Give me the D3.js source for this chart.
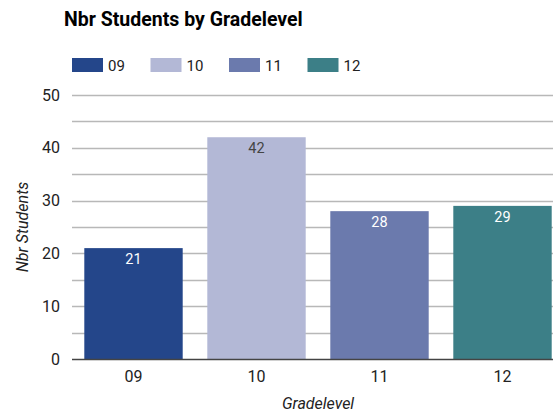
<!DOCTYPE html>
<html>
<head>
<meta charset="utf-8">
<script src="https://cdn.jsdelivr.net/npm/d3@7"></script>
<style>
  body { margin: 0; background: #fff; }
  text { font-family: Roboto, "Noto Sans", sans-serif; }
</style>
</head>
<body>
<svg id="chart"></svg>
<script>
var grades = ["09", "10", "11", "12"];
var students = [21, 42, 28, 29];
var colors = ["#24468a", "#b3b8d6", "#6b7aad", "#3c7f87"];
var labelColors = ["#ffffff", "#444444", "#ffffff", "#ffffff"];
var yTicks = [0, 10, 20, 30, 40, 50];
var gridTicks = [0, 5, 10, 15, 20, 25, 30, 35, 40, 45, 50];

var width = 553, height = 412;
var margin = {top: 95, left: 72, right: 0, bottom: 53};

var svg = d3.select("#chart")
    .attr("width", width)
    .attr("height", height);

var x = d3.scaleBand()
    .domain(grades)
    .range([margin.left, margin.left + 4 * 123])
    .paddingInner(0.2)
    .paddingOuter(0.1);

var y = d3.scaleLinear()
    .domain([0, 50])
    .range([height - margin.bottom, margin.top]);

// title
svg.append("text")
    .attr("x", 64)
    .attr("y", 26)
    .attr("font-size", 19.5)
    .attr("font-weight", "bold")
    .attr("fill", "#000")
    .text("Nbr Students by Gradelevel");

// legend
var legend = svg.selectAll(".legend")
    .data(grades)
    .enter().append("g")
    .attr("class", "legend")
    .attr("transform", function(d, i) { return `translate(${72 + i * 78.5},58)`; });

legend.append("rect")
    .attr("width", 31)
    .attr("height", 14)
    .attr("fill", function(d, i) { return colors[i]; });

legend.append("text")
    .attr("x", 36)
    .attr("y", 12.5)
    .attr("font-size", 15)
    .attr("fill", "#222")
    .text(function(d) { return d; });

// gridlines
svg.append("g")
    .selectAll("line")
    .data(gridTicks.filter(function(d) { return d > 0; }))
    .enter().append("line")
    .attr("x1", margin.left)
    .attr("x2", width)
    .attr("y1", function(d) { return Math.round(y(d)) + 0.5; })
    .attr("y2", function(d) { return Math.round(y(d)) + 0.5; })
    .attr("stroke", "#b8b8b8")
    .attr("stroke-width", 1.3);

// y axis labels
var yAxis = svg.append("g")
    .attr("transform", `translate(${margin.left},0)`)
    .call(d3.axisLeft(y).tickValues(yTicks).tickSize(0).tickPadding(12));
yAxis.select(".domain").remove();
yAxis.selectAll("text")
    .attr("font-size", 16)
    .attr("fill", "#222")
    .style("font-family", "Roboto, sans-serif");

// bars
svg.selectAll(".bar")
    .data(students)
    .enter().append("rect")
    .attr("class", "bar")
    .attr("x", function(d, i) { return x(grades[i]); })
    .attr("width", x.bandwidth())
    .attr("y", function(d) { return y(d); })
    .attr("height", function(d) { return y(0) - y(d); })
    .attr("fill", function(d, i) { return colors[i]; });

// value labels
svg.selectAll(".val")
    .data(students)
    .enter().append("text")
    .attr("class", "val")
    .attr("x", function(d, i) { return x(grades[i]) + x.bandwidth() / 2; })
    .attr("y", function(d) { return y(d) + 16; })
    .attr("text-anchor", "middle")
    .attr("font-size", 14.5)
    .attr("fill", function(d, i) { return labelColors[i]; })
    .text(function(d) { return d; });

// baseline
svg.append("line")
    .attr("x1", margin.left)
    .attr("x2", width)
    .attr("y1", y(0) + 0.5)
    .attr("y2", y(0) + 0.5)
    .attr("stroke", "#444")
    .attr("stroke-width", 1.3);

// x axis labels
var xAxis = svg.append("g")
    .attr("transform", `translate(0,${y(0)})`)
    .call(d3.axisBottom(x).tickSize(0).tickPadding(12));
xAxis.select(".domain").remove();
xAxis.selectAll("text")
    .attr("font-size", 16)
    .attr("fill", "#222")
    .style("font-family", "Roboto, sans-serif");

// axis titles
svg.append("text")
    .attr("x", 318)
    .attr("y", 409)
    .attr("text-anchor", "middle")
    .attr("font-size", 16)
    .attr("font-style", "italic")
    .attr("fill", "#222")
    .text("Gradelevel");

svg.append("text")
    .attr("transform", "translate(28,227) rotate(-90)")
    .attr("text-anchor", "middle")
    .attr("font-size", 16)
    .attr("font-style", "italic")
    .attr("fill", "#222")
    .text("Nbr Students");
</script>
</body>
</html>
